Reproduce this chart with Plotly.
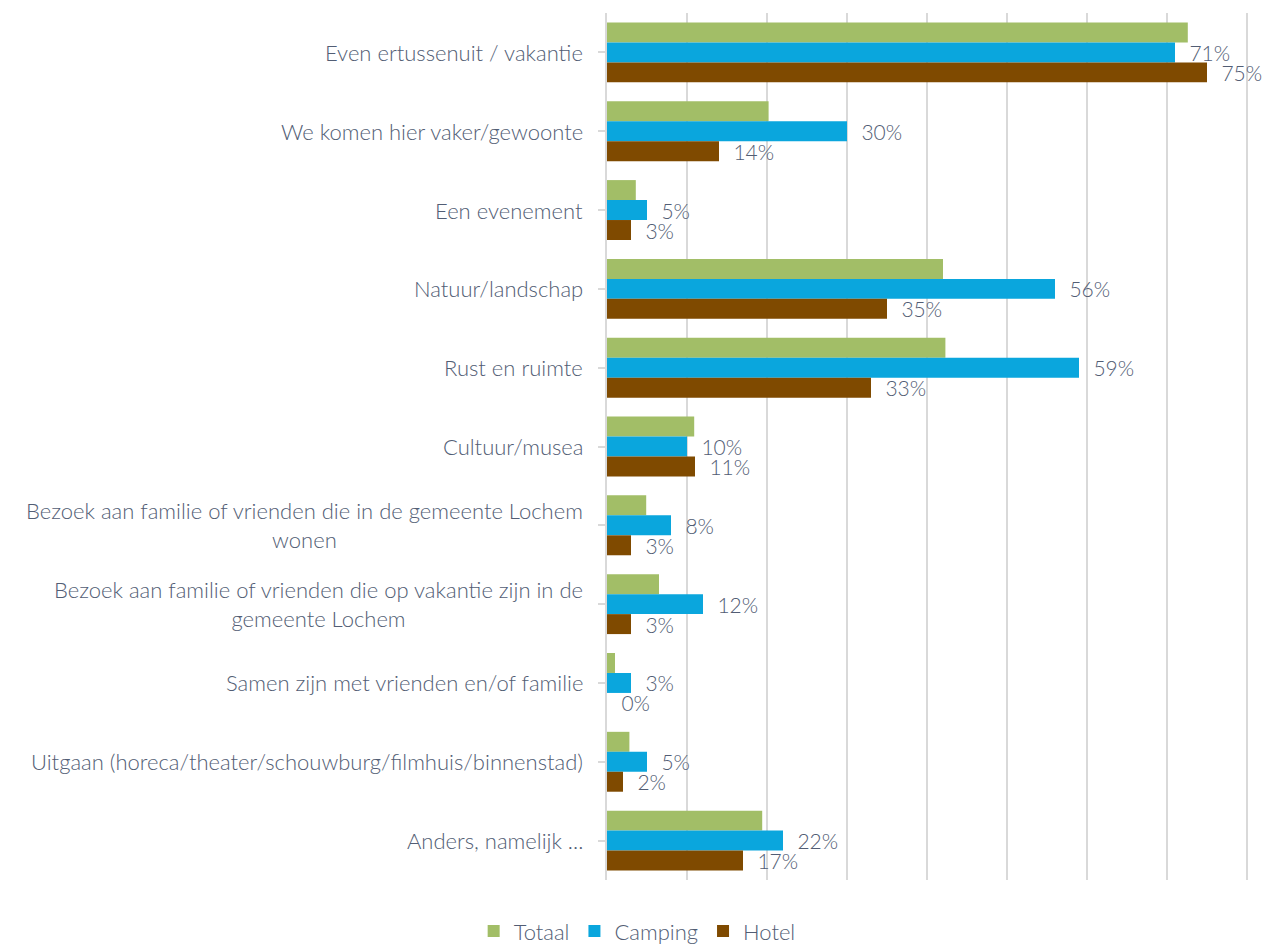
import plotly.graph_objects as go

categories = [
    "Even ertussenuit / vakantie",
    "We komen hier vaker/gewoonte",
    "Een evenement",
    "Natuur/landschap",
    "Rust en ruimte",
    "Cultuur/musea",
    "Bezoek aan familie of vrienden die in de gemeente Lochem<br>wonen",
    "Bezoek aan familie of vrienden die op vakantie zijn in de<br>gemeente Lochem",
    "Samen zijn met vrienden en/of familie",
    "Uitgaan (horeca/theater/schouwburg/filmhuis/binnenstad)",
    "Anders, namelijk ...",
]
totaal = [72.6, 20.2, 3.6, 42.0, 42.3, 10.9, 4.9, 6.5, 1.0, 2.8, 19.4]
camping = [71, 30, 5, 56, 59, 10, 8, 12, 3, 5, 22]
hotel = [75, 14, 3, 35, 33, 11, 3, 3, 0, 2, 17]

series_names = ["Totaal", "Camping", "Hotel"]
colors = ["#A2BE67", "#0AA6DD", "#7F4A00"]
text_color = "#525D74"
font_family = "Lato"

fig = go.Figure()
ycat = list(range(len(categories)))
for name, vals, col, show in zip(series_names, [totaal, camping, hotel], colors, [False, True, True]):
    fig.add_trace(go.Bar(
        y=ycat, x=vals, name=name, orientation="h",
        marker=dict(color=col, line=dict(width=0)),
        text=[f"\u00a0\u00a0{v:.0f}%" for v in vals] if show else None,
        textposition="outside" if show else "none",
        constraintext="none",
        textfont=dict(family=font_family, size=21, color=text_color, weight=300),
        cliponaxis=False,
    ))

for i, c in enumerate(categories):
    fig.add_annotation(
        x=0, xref="paper", xanchor="right", xshift=-22,
        y=i, yref="y", yanchor="middle",
        text=c, showarrow=False, align="center",
        font=dict(family=font_family, size=22, color=text_color, weight=300),
    )

fig.update_layout(
    width=1284, height=944,
    margin=dict(l=599, r=41, t=5, b=72, autoexpand=False),
    paper_bgcolor="white", plot_bgcolor="white",
    barmode="group", bargap=0.24, bargroupgap=0,
    font=dict(family=font_family, size=20, color=text_color),
    showlegend=True,
    legend=dict(orientation="h", xref="container", x=0.49, xanchor="center",
                yref="container", y=0.022, yanchor="middle",
                font=dict(family=font_family, size=22, color=text_color, weight=300),
                itemwidth=30, traceorder="normal"),
)
fig.update_xaxes(range=[0, 80.5], dtick=10, showgrid=True, gridcolor="#D9D9D9", gridwidth=2,
                 showticklabels=False, zeroline=False, showline=False, ticks="", automargin=False)
fig.update_yaxes(tickmode="array", tickvals=ycat, ticktext=[""] * len(ycat),
                 tickson="boundaries", ticks="outside", ticklen=7, tickwidth=2, tickcolor="#D9D9D9",
                 showline=True, linecolor="#D9D9D9", linewidth=2, showgrid=False, zeroline=False,
                 range=[len(categories) - 0.5, -0.5], automargin=False)

fig.write_html("out.html")
